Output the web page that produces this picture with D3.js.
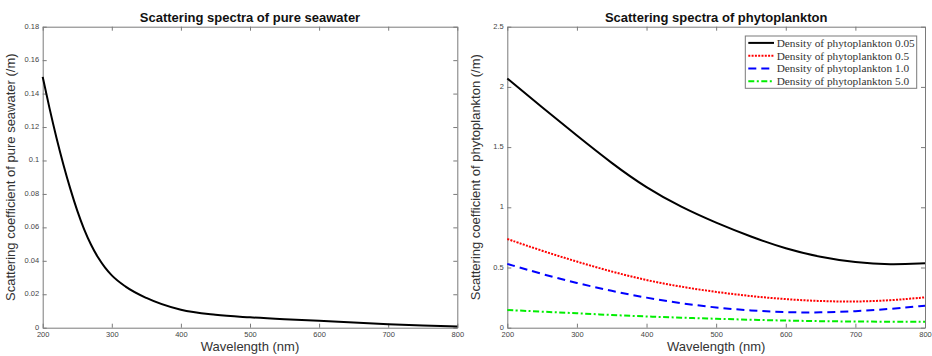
<!DOCTYPE html>
<html><head><meta charset="utf-8">
<script src="https://cdn.jsdelivr.net/npm/d3@7"></script>
<style>body{margin:0;background:#fff}svg{display:block}</style>
</head><body><svg id="c" width="932" height="356"></svg>
<script>
// Left panel: pure seawater
const seaWl  = [200,210,220,230,240,250,260,270,280,290,300,320,350,400,450,500,550,600,650,700,750,800];
const seaVal = [0.150,0.131,0.1135,0.0975,0.083,0.070,0.0588,0.0496,0.0421,0.0361,0.0313,0.0246,0.0178,0.0107,0.0077,0.0062,0.0051,0.0042,0.0031,0.0021,0.0013,0.0007];
const seaYTicks = [0,0.02,0.04,0.06,0.08,0.1,0.12,0.14,0.16,0.18];

// Right panel: phytoplankton
const phyWl = [200,250,300,350,400,450,500,550,600,650,700,750,800];
const phy005 = [2.07,1.83,1.595,1.365,1.16,1.0,0.87,0.755,0.655,0.585,0.541,0.523,0.535];
const phy05  = [0.737,0.638,0.548,0.465,0.393,0.339,0.296,0.261,0.236,0.220,0.215,0.226,0.252];
const phy10  = [0.53,0.445,0.37,0.305,0.248,0.202,0.166,0.142,0.128,0.125,0.136,0.155,0.183];
const phy50  = [0.147,0.133,0.12,0.105,0.093,0.083,0.074,0.066,0.059,0.054,0.051,0.050,0.050];
const phyYTicks = [0,0.5,1,1.5,2,2.5];
const xTicks = [200,300,400,500,600,700,800];
const seriesNames = ["Density of phytoplankton 0.05","Density of phytoplankton 0.5","Density of phytoplankton 1.0","Density of phytoplankton 5.0"];
const seriesColors = ["#000000","#ff0000","#0000ff","#00ee00"];
const seriesDash = [null,"2,1.3","8,5","6,2.5,2,2.5"];

const svg = d3.select("#c");
const plotTop = 26.7, plotBottom = 327.7;
const frameCol = "#7a7a7a", tickTxt = "#444";

function panel(x0, x1, yMax, yTicks, fmt, title, ylabel) {
  const x = d3.scaleLinear().domain([200,800]).range([x0,x1]);
  const y = d3.scaleLinear().domain([0,yMax]).range([plotBottom,plotTop]);
  const g = svg.append("g");
  const ax = (axisFn, scale, ticks, tx, ty, labels, pad) => {
    const a = g.append("g").attr("transform",`translate(${tx},${ty})`)
      .call(axisFn(scale).tickValues(ticks).tickSizeInner(-4).tickSizeOuter(0).tickPadding(pad)
        .tickFormat(labels? labels : ""));
    a.select(".domain").attr("stroke",frameCol);
    a.selectAll(".tick line").attr("stroke",frameCol);
    a.selectAll(".tick text").attr("fill",tickTxt).style("font-family","Liberation Sans, Arial, sans-serif").style("font-size","7.5px");
    return a;
  };
  ax(d3.axisBottom, x, xTicks, 0, plotBottom, d=>d, 4);
  ax(d3.axisTop, x, xTicks, 0, plotTop, null, 0);
  ax(d3.axisLeft, y, yTicks, x0, 0, fmt, 3.5).selectAll(".tick text").attr("dy","0.2em");
  ax(d3.axisRight, y, yTicks, x1, 0, null, 0);
  g.append("text").attr("x",(x0+x1)/2).attr("y",21.5).attr("text-anchor","middle")
    .style("font-family","Liberation Sans, Arial, sans-serif").style("font-weight","bold").style("font-size","13px")
    .attr("fill","#111").text(title);
  g.append("text").attr("x",(x0+x1)/2).attr("y",350.6).attr("text-anchor","middle")
    .style("font-family","Liberation Sans, Arial, sans-serif").style("font-size","13px").attr("fill","#333")
    .text("Wavelength (nm)");
  g.append("text").attr("transform",`translate(${x0-27.5},${(plotTop+plotBottom)/2}) rotate(-90)`).attr("text-anchor","middle")
    .style("font-family","Liberation Sans, Arial, sans-serif").style("font-size","13px").attr("fill","#333")
    .text(ylabel);
  return {x,y,g};
}

const L = panel(42.7, 457.3, 0.18, seaYTicks, d=> d===0?"0":String(+d.toFixed(2)),
  "Scattering spectra of pure seawater","Scattering coefficient of pure seawater (/m)");
L.g.append("path").datum(seaWl.map((w,i)=>[w,seaVal[i]]))
  .attr("fill","none").attr("stroke","#000").attr("stroke-width",2)
  .attr("d", d3.line().x(d=>L.x(d[0])).y(d=>L.y(d[1])).curve(d3.curveMonotoneX));

const R = panel(507.3, 925, 2.5, phyYTicks, d=>String(d),
  "Scattering spectra of phytoplankton","Scattering coefficient of phytoplankton (/m)");
const phySeries = [phy005,phy05,phy10,phy50];
const line = d3.line().x(d=>R.x(d[0])).y(d=>R.y(d[1])).curve(d3.curveBasis);
phySeries.forEach((s,k)=>{
  R.g.append("path").datum(phyWl.map((w,i)=>[w,s[i]]))
    .attr("fill","none").attr("stroke",seriesColors[k]).attr("stroke-width",2)
    .attr("stroke-dasharray",seriesDash[k]).attr("d",line);
});
const lg = R.g.append("g");
lg.append("rect").attr("x",745.3).attr("y",36).attr("width",171.4).attr("height",52.3)
  .attr("fill","#fff").attr("stroke",frameCol).attr("stroke-width",1);
seriesNames.forEach((n,k)=>{
  const cy = 42.9 + k*12.8;
  lg.append("line").attr("x1",748.3).attr("x2",774).attr("y1",cy).attr("y2",cy)
    .attr("stroke",seriesColors[k]).attr("stroke-width",2).attr("stroke-dasharray",seriesDash[k]);
  lg.append("text").attr("x",776.7).attr("y",cy+3.8)
    .style("font-family","Liberation Serif, Times New Roman, serif").style("font-size","11.3px")
    .attr("fill","#333").text(n);
});
</script></body></html>
